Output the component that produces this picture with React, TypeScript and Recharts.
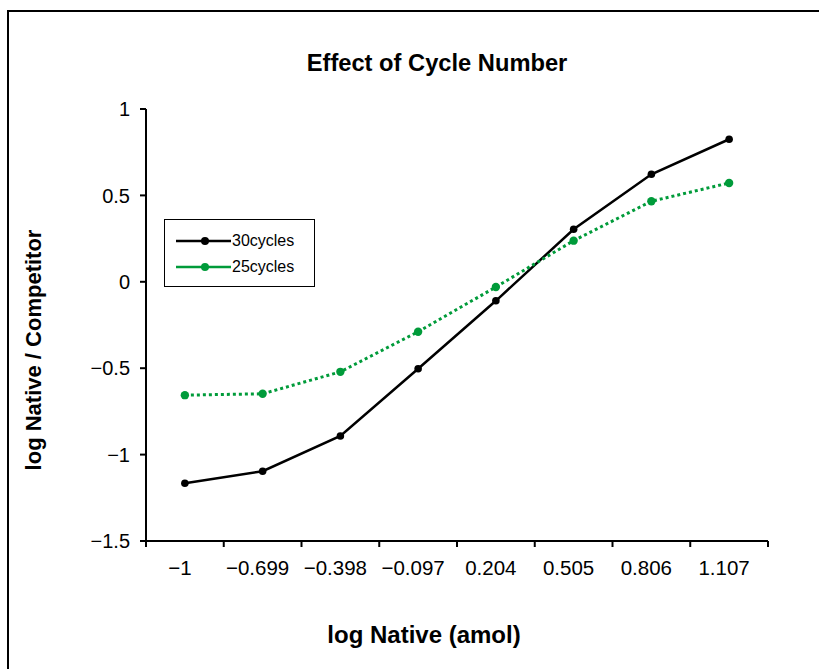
import { LineChart, Line, XAxis, YAxis, Legend } from "recharts";

const categories = ["−1", "−0.699", "−0.398", "−0.097", "0.204", "0.505", "0.806", "1.107"];
const cycles30 = [-1.166, -1.096, -0.892, -0.503, -0.11, 0.304, 0.622, 0.825];
const cycles25 = [-0.656, -0.648, -0.521, -0.289, -0.03, 0.238, 0.466, 0.572];
const yTicks = [-1.5, -1, -0.5, 0, 0.5, 1];

const FONT = '"Liberation Sans", Arial, Helvetica, sans-serif';
const GREEN = "#009b3a";

const data = categories.map((c, i) => ({
    cat: c,
    c30: cycles30[i],
    c25: cycles25[i]
}));

// category label plus tick marks on the band edges (Excel style)
function CatTick(props: any) {
    const { x, y, payload, index, width, visibleTicksCount } = props;
    const band = width / visibleTicksCount;
    const last = index === visibleTicksCount - 1;
    return (
        <g>
            <line x1={x - band / 2} y1={y} x2={x - band / 2} y2={y + 6} stroke="#000" strokeWidth={2} />
            {last && (
                <line x1={x + band / 2} y1={y} x2={x + band / 2} y2={y + 6} stroke="#000" strokeWidth={2} />
            )}
            <text x={x - 5} y={y + 34} textAnchor="middle" fontSize={20.5} fontFamily={FONT} fill="#000">
                {payload.value}
            </text>
        </g>
    );
}

function LegendBox() {
    const rows = [
        { name: "30cycles", color: "#000" },
        { name: "25cycles", color: GREEN }
    ];
    return (
        <div
            style={{
                width: 151,
                height: 68,
                border: "1.5px solid #000",
                boxSizing: "border-box",
                background: "#fff",
                paddingTop: 8,
                fontFamily: FONT,
                fontSize: 16
            }}
        >
            {rows.map(r => (
                <div key={r.name} style={{ display: "flex", alignItems: "center", height: 26 }}>
                    <svg width={68} height={12} style={{ marginLeft: 11 }}>
                        <line x1={0} y1={6} x2={55} y2={6} stroke={r.color} strokeWidth={2.5} />
                        <circle cx={29} cy={6} r={4} fill={r.color} />
                    </svg>
                    <span style={{ marginLeft: -12 }}>{r.name}</span>
                </div>
            ))}
        </div>
    );
}

export default function App() {
    return (
        <div
            style={{
                position: "fixed",
                left: 0,
                top: 0,
                width: 819,
                height: 669,
                overflow: "hidden",
                background: "#fff"
            }}
        >
            <div
                style={{
                    position: "absolute",
                    left: 7,
                    top: 10,
                    width: 900,
                    height: 800,
                    border: "2.5px solid #000"
                }}
            />

            <div
                style={{
                    position: "absolute",
                    left: 0,
                    width: 874,
                    top: 50,
                    textAlign: "center",
                    fontFamily: FONT,
                    fontWeight: "bold",
                    fontSize: 23.7
                }}
            >
                Effect of Cycle Number
            </div>

            <div
                style={{
                    position: "absolute",
                    left: 34,
                    top: 350,
                    transform: "translate(-50%, -50%) rotate(-90deg)",
                    whiteSpace: "nowrap",
                    fontFamily: FONT,
                    fontWeight: "bold",
                    fontSize: 22
                }}
            >
                log Native / Competitor
            </div>

            <div
                style={{
                    position: "absolute",
                    left: 424,
                    top: 635,
                    transform: "translate(-50%, -50%)",
                    whiteSpace: "nowrap",
                    fontFamily: FONT,
                    fontWeight: "bold",
                    fontSize: 24
                }}
            >
                log Native (amol)
            </div>

            <div style={{ position: "absolute", left: 0, top: 0 }}>
                <LineChart
                    width={819}
                    height={669}
                    data={data}
                    margin={{ top: 109, right: 51, bottom: 70, left: 0 }}
                >
                    <XAxis
                        dataKey="cat"
                        scale="band"
                        height={58}
                        axisLine={{ stroke: "#000", strokeWidth: 2 }}
                        tickLine={false}
                        tickSize={0}
                        tickMargin={0}
                        interval={0}
                        tick={<CatTick />}
                    />
                    <YAxis
                        width={146}
                        domain={[-1.5, 1]}
                        ticks={yTicks}
                        interval={0}
                        tickSize={6}
                        tickMargin={10}
                        tickFormatter={(v: number) => String(v).replace("-", "−")}
                        tick={{ fill: "#000", fontSize: 20, fontFamily: FONT }}
                        axisLine={{ stroke: "#000", strokeWidth: 2 }}
                        tickLine={{ stroke: "#000", strokeWidth: 2 }}
                    />
                    <Legend
                        layout="vertical"
                        verticalAlign="middle"
                        align="center"
                        content={<LegendBox />}
                        wrapperStyle={{ position: "absolute", left: 164, top: 219, width: 151, height: 68 }}
                    />
                    <Line
                        dataKey="c30"
                        name="30cycles"
                        stroke="#000"
                        strokeWidth={2.5}
                        dot={{ r: 3.8, fill: "#000", stroke: "#000", strokeWidth: 0 }}
                        isAnimationActive={false}
                    />
                    <Line
                        dataKey="c25"
                        name="25cycles"
                        stroke={GREEN}
                        strokeWidth={3}
                        strokeDasharray="3 3"
                        dot={{ r: 4.2, fill: GREEN, stroke: GREEN, strokeWidth: 0, strokeDasharray: "" }}
                        isAnimationActive={false}
                    />
                </LineChart>
            </div>
        </div>
    );
}
